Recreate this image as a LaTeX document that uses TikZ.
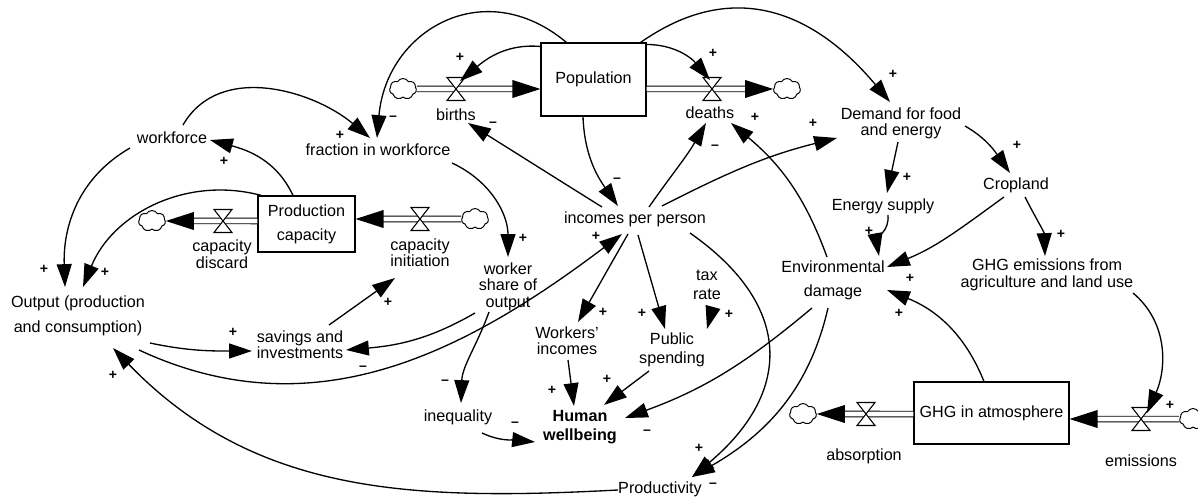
\documentclass[tikz,border=0pt]{standalone}
\usepackage{fontspec}
\setmainfont{Liberation Sans}
\usetikzlibrary{arrows.meta,calc,shapes.symbols}

\begin{document}
\begin{tikzpicture}[x=0.02cm,y=0.02cm,
    var/.style={align=center,inner sep=1pt,font=\fontsize{9.2}{9.4}\selectfont},
    stock/.style={draw,line width=0.6pt,align=center,inner sep=0pt,font=\fontsize{9.2}{9.4}\selectfont},
    link/.style={line width=0.75pt,-{Triangle[length=13pt,width=8.5pt]}},
    pipe/.style={double,double distance=2.6pt,line width=0.55pt,shorten >=8pt},
    sgn/.style={inner sep=0pt,font=\fontsize{8}{8}\selectfont\bfseries},
    cloudy/.style={cloud,cloud puffs=7,cloud puff arc=120,aspect=1.3,draw,fill=white,line width=0.55pt,inner sep=0pt,minimum width=0.54cm,minimum height=0.42cm},
    valve/.pic={\draw[fill=white,line width=0.6pt] (-9,11.5) -- (9,11.5) -- (-9,-11.5) -- (9,-11.5) -- cycle;},
    fhead/.pic={\fill (0,0) -- (-28,9) -- (-28,-9) -- cycle;}
  ]
    \useasboundingbox (0,0) rectangle (1198,-500);

    % Stocks
    \node[stock,minimum width=2.1cm,minimum height=1.46cm] (P) at (593.5,-79.5) {Population};
    \node[stock,minimum width=1.94cm,minimum height=1.12cm] (PC) at (306.5,-224) {Production\\[4.2pt]capacity};
    \node[stock,minimum width=3.1cm,minimum height=1.24cm] (G) at (991.5,-413) {GHG in atmosphere};

    % Auxiliary variables
    \node[var] (W) at (172,-138) {workforce};
    \node[var] (F) at (378,-150) {fraction in workforce};
    \node[var] (O) at (78,-315.5) {Output (production\\[4.7pt]and consumption)};
    \node[var] (S) at (300,-344.5) {savings and\\investments};
    \node[var] (SH) at (508,-286.5) {worker\\share of\\output};
    \node[var] (I) at (635,-219) {incomes per person};
    \node[var] (DM) at (901,-123.5) {Demand for food\\and energy};
    \node[var] (CR) at (1016,-185) {Cropland};
    \node[var] (E) at (883,-206) {Energy supply};
    \node[var] (ED) at (833,-280) {Environmental\\[4.2pt]damage};
    \node[var] (GE) at (1047,-275) {GHG emissions from\\agriculture and land use};
    \node[var] (WI) at (567,-340.5) {Workers'\\incomes};
    \node[var] (PS) at (672,-349.5) {Public\\[1.4pt]spending};
    \node[var] (TR) at (707,-284.5) {tax\\[1.4pt]rate};
    \node[var,font=\fontsize{9.2}{9.4}\selectfont\bfseries] (HW) at (580,-427.5) {Human\\[1.4pt]wellbeing};
    \node[var] (IQ) at (458,-417) {inequality};
    \node[var] (PR) at (660,-489) {Productivity};

    % Flow labels
    \node[var] (B) at (456,-115) {births};
    \node[var] (D) at (710,-113) {deaths};
    \node[var] (CD) at (222,-254) {capacity\\discard};
    \node[var] (CI) at (420,-252.5) {capacity\\initiation};
    \node[var] (EM) at (1141,-461) {emissions};
    \node[var] (AB) at (864,-456) {absorption};

    % Valves and clouds
    \coordinate (vbirths) at (456,-89);
    \coordinate (vdeaths) at (712,-89);
    \coordinate (vinit) at (420,-219);
    \coordinate (vdiscard) at (223,-221);
    \coordinate (vemis) at (1141,-419);
    \coordinate (vabs) at (866,-414);
    \node[cloudy] (cbirths) at (403,-89) {};
    \node[cloudy] (cdeaths) at (787,-89) {};
    \node[cloudy] (cinit) at (475,-219) {};
    \node[cloudy] (cdiscard) at (152,-221) {};
    \node[cloudy] (cemis) at (1193,-419) {};
    \node[cloudy] (cabs) at (803,-414) {};

    % Flows
    \draw[pipe] (cbirths.east) -- (P.west |- vbirths);
    \pic at (P.west |- vbirths) {fhead};
    \draw[pipe] (P.east |- vdeaths) -- (cdeaths.west);
    \pic at (cdeaths.west) {fhead};
    \draw[pipe] (cinit.west) -- (PC.east |- vinit);
    \pic[rotate=180] at (PC.east |- vinit) {fhead};
    \draw[pipe] (PC.west |- vdiscard) -- (cdiscard.east);
    \pic[rotate=180] at (cdiscard.east) {fhead};
    \draw[pipe] (cemis.west) -- (G.east |- vemis);
    \pic[rotate=180] at (G.east |- vemis) {fhead};
    \draw[pipe] (G.west |- vabs) -- (cabs.east);
    \pic[rotate=180] at (cabs.east) {fhead};
    \foreach \v in {vbirths,vdeaths,vinit,vdiscard,vemis,vabs}
      \pic at (\v) {valve};

    % Causal links
    \draw[link] ($(P.north west)+(0,-4)$) to[out=175,in=40] ($(vbirths)+(4,8)$);
    \draw[link] ($(P.north east)+(0,-2)$) to[out=0,in=130] ($(vdeaths)+(-2,9)$);
    \draw[link] ($(P.north west)+(26,0)$) to[out=140,in=85,looseness=1.3] ($(F)+(-1,12)$);
    \draw[link] ($(W)+(11,13)$) to[out=60,in=140] ($(F)+(-8,12)$);
    \draw[link] ($(PC.north)+(-13.5,0)$) to[out=115,in=-15] ($(W)+(38,-2)$);
    \draw[link] ($(W)+(-42,-10)$) to[out=210,in=92] ($(O)+(-13,28.5)$);
    \draw[link] ($(PC.north west)+(4,0)$) to[out=165,in=68] ($(O)+(5,28.5)$);
    \draw[link] ($(F)+(74,-13)$) to[out=-25,in=90] ($(SH)+(0,29.5)$);
    \draw[link] ($(SH)+(-33,-26.5)$) to[out=210,in=5] ($(S)+(46,-5.5)$);
    \draw[link] ($(SH)+(-19,-25.5)$) to[out=250,in=88] ($(IQ)+(3,14)$);
    \draw[link] ($(S)+(29,19.5)$) -- ($(CI)+(-25,-25.5)$);
    \draw[link] ($(O)+(72,-27.5)$) to[out=-12,in=180] ($(S)+(-48,-6.5)$);
    \draw[link] ($(O)+(61,-34.5)$) to[out=-25,in=217] ($(I)+(-13,-15)$);
    \draw[link] ($(PR)+(-42,-1)$) to[out=183,in=-46] ($(O)+(35,-32.5)$);
    \draw[link] ($(P.south)+(-10.5,0)$) to[out=-88,in=125] ($(I)+(-17,13)$);
    \draw[link] ($(I)+(-33,12)$) to[out=148,in=-32] ($(B)+(12,-8)$);
    \draw[link] ($(I)+(14,12)$) to[out=55,in=-120] ($(D)+(-4,-10)$);
    \draw[link] ($(I)+(27,13)$) to[out=27,in=194] ($(DM)+(-64,-14.5)$);
    \draw[link] ($(P.north east)+(-6,0)$) to[out=35,in=130,looseness=1.15] ($(DM)+(-11,21.5)$);
    \draw[link] ($(DM)+(64,-2.5)$) to[out=-30,in=125] ($(CR)+(-6,12)$);
    \draw[link] ($(DM)+(-3,-18.5)$) -- ($(E)+(4,13)$);
    \draw[link] ($(E)+(5,-9)$) to[out=-85,in=100] ($(ED)+(46,24)$);
    \draw[link] ($(CR)+(-12,-12)$) to[out=216,in=22] ($(ED)+(54,13)$);
    \draw[link] ($(CR)+(9,-12)$) to[out=-63,in=92] ($(GE)+(-2,19)$);
    \draw[link] ($(GE)+(86,-18)$) to[out=-40,in=66] ($(vemis)+(6,6)$);
    \draw[link] ($(G.north)+(-7.5,0)$) to[out=112,in=-22] ($(ED)+(54,-10)$);
    \draw[link] ($(ED)+(-6,23)$) to[out=110,in=-40] ($(D)+(21,-10)$);
    \draw[link] ($(ED)+(-21,-28)$) to[out=220,in=20] ($(HW)+(45,9.5)$);
    \draw[link] ($(ED)+(-5,-28)$) to[out=-103,in=30] ($(PR)+(32,12)$);
    \draw[link] ($(I)+(55,-14)$) to[out=-35,in=40,looseness=1.35] ($(PR)+(32,12)$);
    \draw[link] ($(I)+(-7,-15)$) -- ($(WI)+(11,18.5)$);
    \draw[link] ($(I)+(3,-16)$) -- ($(PS)+(-7,20.5)$);
    \draw[link] ($(TR)+(6,-22.5)$) -- ($(PS)+(35,20.5)$);
    \draw[link] ($(WI)+(1,-19.5)$) -- ($(HW)+(-6,21.5)$);
    \draw[link] ($(PS)+(-23,-21.5)$) -- ($(HW)+(24,22.5)$);
    \draw[link] ($(IQ)+(24,-16)$) to[out=-25,in=174] ($(HW)+(-45,-14.5)$);

    % Polarity signs
    \foreach \x/\y [count=\k] in {340/135,224/161,460/57,713/53,755/117,893/74,813/123,1017/145,907/177,869/231,910/278,899/313,1061/234,1170/405,523/238,596/236,44/269,105/272,233/332,388/302,552/390,607/379,603/312,642/313,729/314,699/448,113/375}
      \node[sgn] (plus\k) at (\x,-\y) {+};
    \foreach \x/\y [count=\k] in {393/118,493/124,715/147,617/180,363/368,445/382,515/424,647/432,713/485}
      \node[sgn] (minus\k) at (\x,-\y) {--};
  \end{tikzpicture}
\end{document}
